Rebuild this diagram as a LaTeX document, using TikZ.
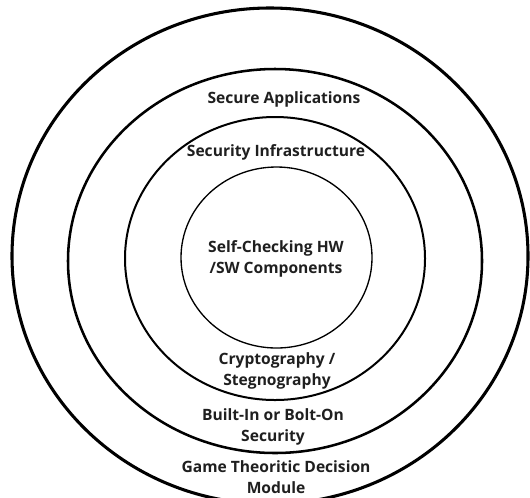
\documentclass[tikz,border=0pt]{standalone}
\usepackage{fontspec}
\setmainfont{Open Sans}
\begin{document}
\begin{tikzpicture}[x=0.75pt,y=-0.75pt,
  ring/.style={draw=black},
  lbl/.style={font=\bfseries\fontsize{11.7}{15.8}\selectfont, text=black!88, align=center, inner sep=0pt}]
\useasboundingbox (0,0) rectangle (530,497);
\clip (0,0) rectangle (530,497);
\fill[white] (0,0) rectangle (530,497);
\path[ring, line width=2.3pt] (270,256) ellipse [x radius=258, y radius=248];
\path[ring, line width=1.9pt] (275,261) ellipse [x radius=207, y radius=192];
\path[ring, line width=1.5pt] (275,258.5) ellipse [x radius=150, y radius=141.5];
\path[ring, line width=1.0pt] (276.5,257.5) ellipse [x radius=95.5, y radius=90.5];
\node[lbl] (secapp) at (284,99) {Secure Applications};
\node[lbl] (secinf) at (276,152) {Security Infrastructure};
\node[lbl] (selfchk) at (276,258.5) {Self-Checking HW\\/SW Components};
\node[lbl] (crypto) at (277,370.5) {Cryptography /\\Stegnography};
\node[lbl] (builtin) at (273,427) {Built-In or Bolt-On\\Security};
\node[lbl] (game) at (276,477) {Game Theoritic Decision\\Module};
\end{tikzpicture}
\end{document}
